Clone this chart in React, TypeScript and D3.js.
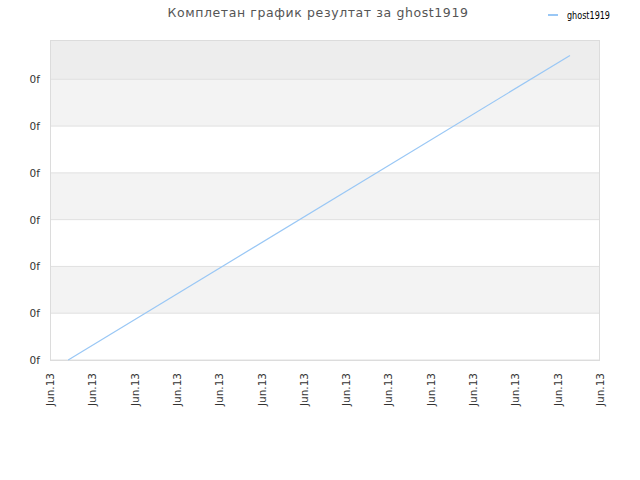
import * as d3 from "d3";

// x positions in tick units (0..13)
const pointX = [0.43, 12.29];
const pointY = [0, 6.51];
const xTickLabels = Array.from({ length: 14 }, () => "Jun.13");
const yTicks = [0, 1, 2, 3, 4, 5, 6];
const seriesName = "ghost1919";

const W = 640;
const H = 480;
const margin = { top: 40, right: 40, bottom: 120, left: 50 };

export default function App() {
  const iw = W - margin.left - margin.right;
  const ih = H - margin.top - margin.bottom;

  const x = d3.scaleLinear().domain([0, xTickLabels.length - 1]).range([0, iw]);
  const y = d3.scaleLinear().domain([0, 6.84]).range([ih, 0]);

  const line = d3
    .line<number>()
    .x((_, i) => x(pointX[i]))
    .y((d) => y(d));

  // alternating bands between grid lines
  const bandEdges = [...yTicks, 6.84];
  const bands = bandEdges.slice(0, -1).map((v, i) => ({
    y0: y(bandEdges[i + 1]),
    y1: y(v),
    fill: i === 6 ? "#ededed" : i % 2 === 1 ? "#f3f3f3" : "#ffffff",
  }));

  return (
    <svg
      width={W}
      height={H}
      style={{ position: "absolute", left: 0, top: 0, background: "#fff" }}
      fontFamily="DejaVu Sans, sans-serif"
    >
      <text
        x={318}
        y={17}
        textAnchor="middle"
        fontSize={12.5}
        fill="#555"
        letterSpacing={0.6}
      >
        Комплетан график резултат за ghost1919
      </text>

      <g transform="translate(548,15)">
        <line x1={0} x2={10} y1={0} y2={0} stroke="#99c7f5" strokeWidth={2} />
        <text
          x={19}
          y={4}
          fontSize={11}
          fill="#000"
          fontFamily="DejaVu Sans Condensed, Liberation Sans Narrow, sans-serif"
          textLength={43}
          lengthAdjust="spacingAndGlyphs"
        >
          {seriesName}
        </text>
      </g>

      <g transform={`translate(${margin.left},${margin.top})`}>
        {bands.map((b, i) => (
          <rect key={i} x={0} y={b.y0} width={iw} height={b.y1 - b.y0} fill={b.fill} />
        ))}
        {yTicks.map((t) => (
          <g key={t}>
            <line x1={0} x2={iw} y1={y(t)} y2={y(t)} stroke="#e0e0e0" />
            <text
              x={-10}
              y={y(t) + 4}
              textAnchor="end"
              fontSize={10.5}
              fill="#333"
            >
              0f
            </text>
          </g>
        ))}
        <rect x={0.5} y={0.5} width={iw - 1} height={ih} fill="none" stroke="#dcdcdc" />

        <path
          d={line(pointY) ?? ""}
          fill="none"
          stroke="#99c7f5"
          strokeWidth={1.2}
        />

        {xTickLabels.map((lab, i) => (
          <text
            key={i}
            transform={`translate(${x(i) + 4},${ih + 13}) rotate(-90)`}
            textAnchor="end"
            fontSize={10.5}
            fill="#333"
          >
            {lab}
          </text>
        ))}
      </g>
    </svg>
  );
}
